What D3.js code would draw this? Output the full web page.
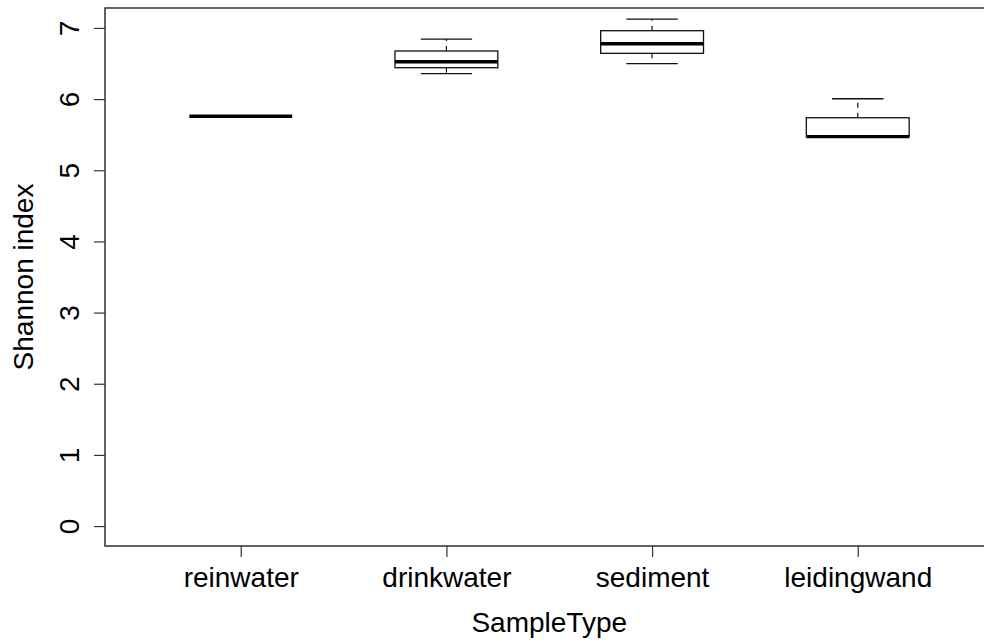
<!DOCTYPE html>
<html>
<head>
<meta charset="utf-8">
<script src="https://cdn.jsdelivr.net/npm/d3@7"></script>
<style>
  html, body { margin: 0; padding: 0; background: #fff; }
  svg { display: block; font-family: "Liberation Sans", Arial, sans-serif; }
</style>
</head>
<body>
<svg id="chart" width="984" height="642"></svg>
<script>
// Shannon diversity per sample type: five-number summaries for each box
const categories   = ["reinwater", "drinkwater", "sediment", "leidingwand"];
const lowerWhisker = [5.758, 6.357, 6.497, 5.472];
const lowerHinge   = [5.758, 6.441, 6.643, 5.472];
const medians      = [5.758, 6.525, 6.778, 5.472];
const upperHinge   = [5.758, 6.676, 6.961, 5.738];
const upperWhisker = [5.758, 6.844, 7.125, 6.005];
const yTicks       = [0, 1, 2, 3, 4, 5, 6, 7];
const xTitle = "SampleType";
const yTitle = "Shannon index";

const boxes = categories.map((c, i) => ({
  name: c, pos: i + 1,
  lw: lowerWhisker[i], q1: lowerHinge[i], med: medians[i],
  q3: upperHinge[i], uw: upperWhisker[i]
}));

const svg = d3.select("#chart");
const plotLeft = 105, plotTop = 8, plotBottom = 546;
const unitPx = 205.67;

// x runs over group positions 1..4 padded the usual 4% past 0.5..4.5
const x = d3.scaleLinear().domain([0.34, 4.66]).range([plotLeft, plotLeft + 4.32 * unitPx]);
const y = d3.scaleLinear().domain([-0.28, 7.28]).range([plotBottom, plotTop]);

const boxHalf = 0.25;     // box spans 0.5 group units
const stapleHalf = 0.125; // whisker caps are half the box width
const ink = "#111";
const fontSize = 28;

// boxes
const g = svg.append("g");
const b = g.selectAll("g.box").data(boxes).join("g").attr("class", "box");

// dashed whiskers
b.append("line")
  .attr("x1", d => x(d.pos)).attr("x2", d => x(d.pos))
  .attr("y1", d => y(d.q3)).attr("y2", d => y(d.uw))
  .attr("stroke", ink).attr("stroke-width", 1.2).attr("stroke-dasharray", "5,5");
b.append("line")
  .attr("x1", d => x(d.pos)).attr("x2", d => x(d.pos))
  .attr("y1", d => y(d.q1)).attr("y2", d => y(d.lw))
  .attr("stroke", ink).attr("stroke-width", 1.2).attr("stroke-dasharray", "5,5");

// staples
b.filter(d => d.uw > d.q3).append("line")
  .attr("x1", d => x(d.pos - stapleHalf)).attr("x2", d => x(d.pos + stapleHalf))
  .attr("y1", d => y(d.uw)).attr("y2", d => y(d.uw))
  .attr("stroke", ink).attr("stroke-width", 1.3);
b.filter(d => d.lw < d.q1).append("line")
  .attr("x1", d => x(d.pos - stapleHalf)).attr("x2", d => x(d.pos + stapleHalf))
  .attr("y1", d => y(d.lw)).attr("y2", d => y(d.lw))
  .attr("stroke", ink).attr("stroke-width", 1.3);

// hinge box
b.append("rect")
  .attr("x", d => x(d.pos - boxHalf))
  .attr("width", d => x(d.pos + boxHalf) - x(d.pos - boxHalf))
  .attr("y", d => y(d.q3))
  .attr("height", d => y(d.q1) - y(d.q3))
  .attr("fill", "#fff").attr("stroke", ink).attr("stroke-width", 1.3);

// median
b.append("line")
  .attr("x1", d => x(d.pos - boxHalf)).attr("x2", d => x(d.pos + boxHalf))
  .attr("y1", d => y(d.med)).attr("y2", d => y(d.med))
  .attr("stroke", "#000").attr("stroke-width", 3.4);

// plot frame (right side runs past the canvas edge)
svg.append("rect")
  .attr("x", plotLeft).attr("y", plotTop)
  .attr("width", x.range()[1] - plotLeft).attr("height", plotBottom - plotTop)
  .attr("fill", "none").attr("stroke", "#222").attr("stroke-width", 1.4);

// y axis with rotated labels
const yAxis = svg.append("g")
  .attr("transform", `translate(${plotLeft},0)`)
  .call(d3.axisLeft(y).tickValues(yTicks).tickFormat(d3.format("d")).tickSize(11));
yAxis.select(".domain").remove();
yAxis.selectAll(".tick line").attr("stroke", "#333").attr("stroke-width", 1.2);
yAxis.selectAll(".tick text")
  .attr("x", null).attr("dy", null).attr("y", null)
  .attr("transform", "translate(-26,0) rotate(-90)")
  .attr("text-anchor", "middle")
  .attr("fill", "#000")
  .style("font-size", fontSize + "px");

// x axis
const xAxis = svg.append("g")
  .attr("transform", `translate(0,${plotBottom})`)
  .call(d3.axisBottom(x).tickValues(boxes.map(d => d.pos))
    .tickFormat((d, i) => categories[i]).tickSize(11));
xAxis.select(".domain").remove();
xAxis.selectAll(".tick line").attr("stroke", "#333").attr("stroke-width", 1.2);
xAxis.selectAll(".tick text")
  .attr("y", 41).attr("dy", null)
  .attr("fill", "#000")
  .style("font-size", fontSize + "px");

// axis titles
svg.append("text")
  .attr("x", (x.range()[0] + x.range()[1]) / 2).attr("y", 632)
  .attr("text-anchor", "middle")
  .style("font-size", fontSize + "px")
  .text(xTitle);

svg.append("text")
  .attr("transform", `translate(33,${(plotTop + plotBottom) / 2}) rotate(-90)`)
  .attr("text-anchor", "middle")
  .style("font-size", fontSize + "px")
  .text(yTitle);
</script>
</body>
</html>
